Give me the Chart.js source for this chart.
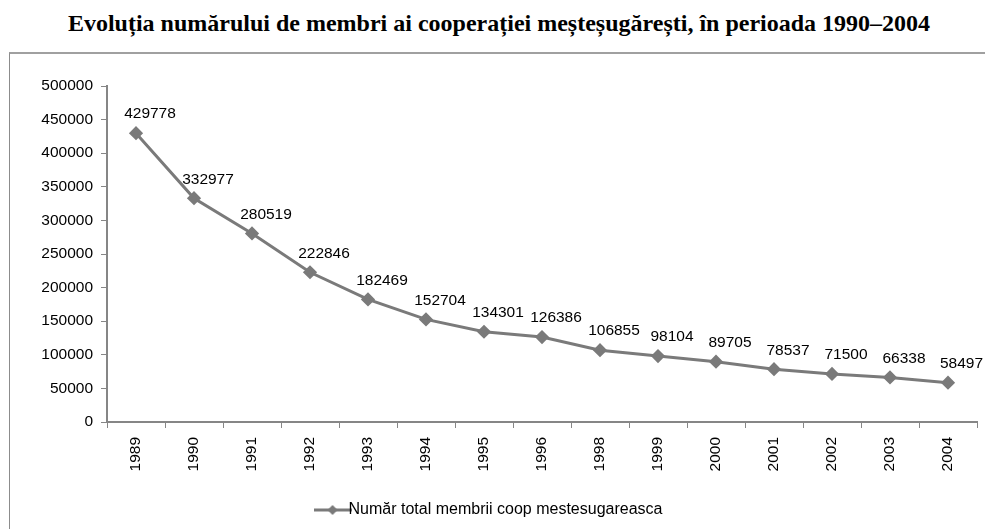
<!DOCTYPE html>
<html>
<head>
<meta charset="utf-8">
<script src="https://cdn.jsdelivr.net/npm/chart.js@4/dist/chart.umd.min.js"></script>
<style>
    body { margin: 0; background: #fff; width: 985px; height: 529px; overflow: hidden; position: relative; }
    #title {
        position: absolute; left: 0; top: 8px; width: 998px; text-align: center; line-height: 30px;
        font-family: "Liberation Serif", "Times New Roman", serif; font-weight: bold; font-size: 24px; color: #000;
    }
    #box {
        position: absolute; left: 9px; top: 52px; width: 990px; height: 490px;
        border-left: 1px solid #8c8c8c; border-top: 2px solid #a0a0a0;
    }
    #chart { display: block; }
</style>
</head>
<body>
<div id="title">Evoluția numărului de membri ai cooperației meșteșugărești, în perioada 1990–2004</div>
<div id="box"><canvas id="chart" width="975" height="475"></canvas></div>
<script>
// Data
const years = ['1989', '1990', '1991', '1992', '1993', '1994', '1995', '1996', '1998', '1999', '2000', '2001', '2002', '2003', '2004'];
const members = [429778, 332977, 280519, 222846, 182469, 152704, 134301, 126386, 106855, 98104, 89705, 78537, 71500, 66338, 58497];
const seriesName = 'Număr total membrii coop mestesugareasca';

const grey = '#7a7a7a';
const axisGrey = '#868686';
const font = { family: '"Liberation Sans", Arial, sans-serif', size: 15.5 };
const legendFont = { family: '"Liberation Sans", Arial, sans-serif', size: 16 };

// Legend symbol: short line with a diamond in the middle
function legendSymbol() {
    const c = document.createElement('canvas');
    c.width = 38;
    c.height = 12;
    const ctx = c.getContext('2d');
    ctx.strokeStyle = grey;
    ctx.lineWidth = 3;
    ctx.beginPath();
    ctx.moveTo(0, 6);
    ctx.lineTo(38, 6);
    ctx.stroke();
    ctx.fillStyle = grey;
    ctx.beginPath();
    ctx.moveTo(19, 1);
    ctx.lineTo(24, 6);
    ctx.lineTo(19, 11);
    ctx.lineTo(14, 6);
    ctx.closePath();
    ctx.fill();
    return c;
}
const symbol = legendSymbol();

// Value labels above each point, a little to the right (kept inside the canvas)
const valueLabels = {
    id: 'valueLabels',
    afterDatasetsDraw(chart) {
        const ctx = chart.ctx;
        const meta = chart.getDatasetMeta(0);
        ctx.save();
        ctx.font = `${font.size}px ${font.family}`;
        ctx.fillStyle = '#000';
        ctx.textAlign = 'center';
        ctx.textBaseline = 'middle';
        meta.data.forEach((pt, i) => {
            const txt = String(members[i]);
            const w = ctx.measureText(txt).width;
            const x = Math.min(pt.x + 14, chart.width - w / 2 - 2);
            ctx.fillText(txt, x, pt.y - 19);
        });
        ctx.restore();
    }
};

new Chart(document.getElementById('chart'), {
    type: 'line',
    data: {
        labels: years,
        datasets: [{
            label: seriesName,
            data: members,
            borderColor: grey,
            backgroundColor: grey,
            borderWidth: 3,
            pointStyle: 'rectRot',
            pointRadius: 5,
            pointHoverRadius: 5,
            tension: 0
        }]
    },
    options: {
        responsive: false,
        animation: false,
        layout: { padding: { left: 0, right: 8, top: 32, bottom: 1 } },
        plugins: {
            legend: {
                position: 'bottom',
                labels: {
                    font: legendFont,
                    color: '#000',
                    padding: 8,
                    usePointStyle: true,
                    generateLabels: () => [{
                        text: seriesName,
                        pointStyle: symbol,
                        fillStyle: grey,
                        strokeStyle: grey,
                        lineWidth: 0,
                        datasetIndex: 0
                    }]
                }
            },
            tooltip: { enabled: false }
        },
        scales: {
            x: {
                offset: true,
                afterFit: s => { s.height = 72; },
                grid: { offset: true, drawOnChartArea: false, color: axisGrey, tickLength: 6 },
                border: { color: axisGrey, width: 2 },
                ticks: { font: font, color: '#000', maxRotation: 90, minRotation: 90, padding: 9 }
            },
            y: {
                min: 0,
                max: 500000,
                afterFit: s => { s.width = 97; },
                grid: { drawOnChartArea: false, color: axisGrey, tickLength: 6 },
                border: { color: axisGrey, width: 2 },
                ticks: { stepSize: 50000, font: font, color: '#000', padding: 8, callback: v => String(v) }
            }
        }
    },
    plugins: [valueLabels]
});
</script>
</body>
</html>
